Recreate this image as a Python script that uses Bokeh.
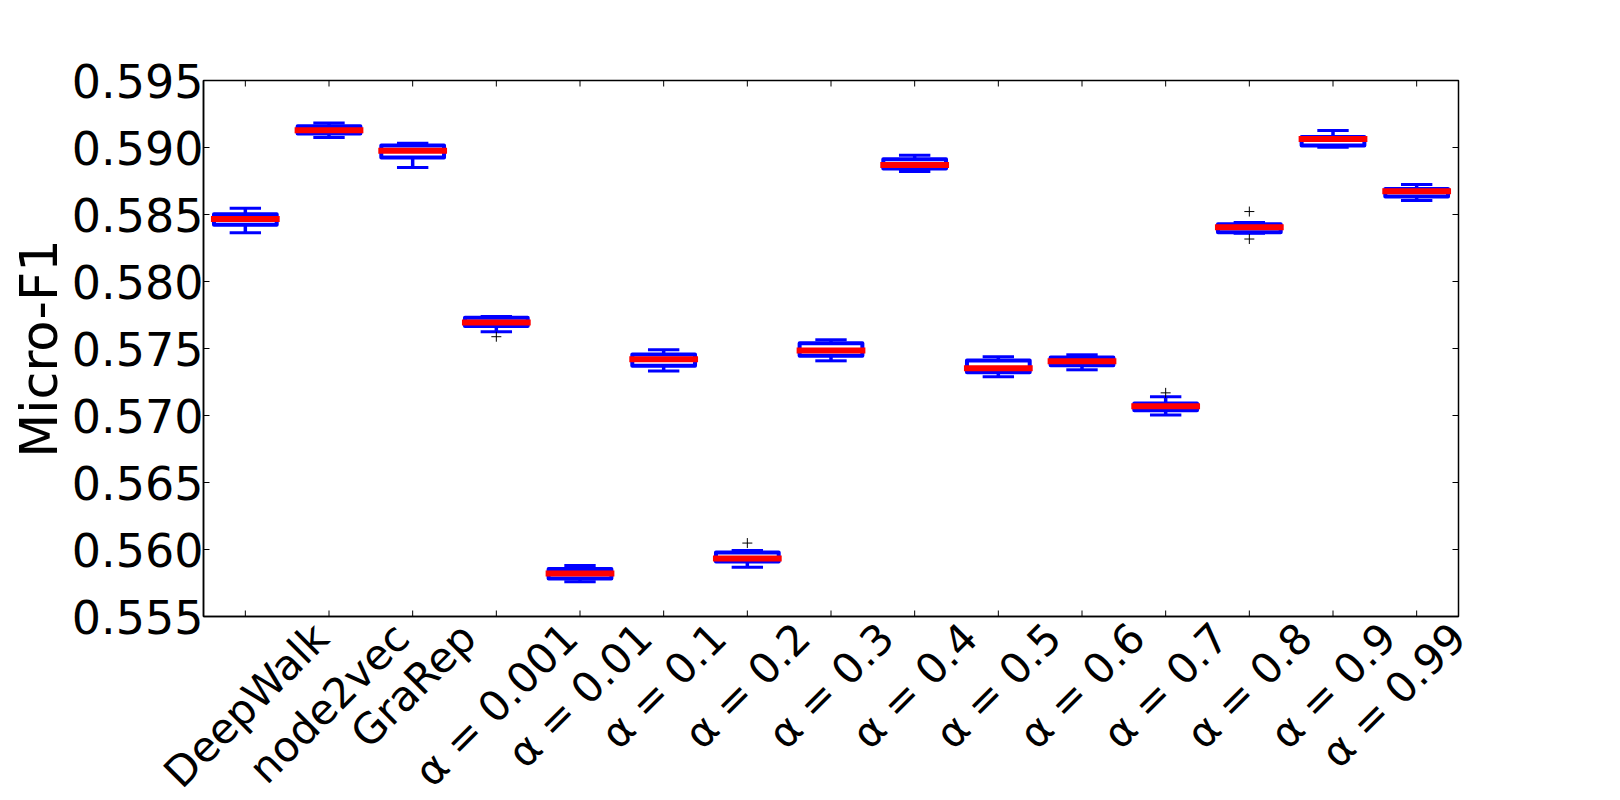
import numpy as np
from bokeh.plotting import figure
from bokeh.models import (ColumnDataSource, Range1d, FixedTicker, NumeralTickFormatter,
                          CustomJSTickFormatter)
from bokeh.transform import dodge
from bokeh.embed import file_html
from bokeh.resources import INLINE
from math import pi

# ---------------- data ----------------
categories = ["DeepWalk", "node2vec", "GraRep",
              "α = 0.001", "α = 0.01", "α = 0.1", "α = 0.2", "α = 0.3",
              "α = 0.4", "α = 0.5", "α = 0.6", "α = 0.7", "α = 0.8",
              "α = 0.9", "α = 0.99"]
whisker_high = [0.58546, 0.59182, 0.59032, 0.57739, 0.55880, 0.57490, 0.55993, 0.57565,
                0.58942, 0.57438, 0.57453, 0.57139, 0.58440, 0.59127, 0.58723]
q3 = [0.58501, 0.59159, 0.59015, 0.57730, 0.55854, 0.57455, 0.55978, 0.57540,
      0.58913, 0.57410, 0.57433, 0.57089, 0.58427, 0.59079, 0.58690]
median = [0.58466, 0.59129, 0.58975, 0.57694, 0.55820, 0.57420, 0.55933, 0.57485,
          0.58870, 0.57353, 0.57405, 0.57069, 0.58405, 0.59064, 0.58673]
q1 = [0.58424, 0.59105, 0.58925, 0.57667, 0.55783, 0.57371, 0.55910, 0.57445,
      0.58843, 0.57323, 0.57375, 0.57039, 0.58367, 0.59015, 0.58634]
whisker_low = [0.58364, 0.59075, 0.58851, 0.57625, 0.55759, 0.57333, 0.55868, 0.57408,
               0.58821, 0.57289, 0.57341, 0.57004, 0.58360, 0.59002, 0.58604]
outlier_cat = ["α = 0.001", "α = 0.2", "α = 0.7", "α = 0.8", "α = 0.8"]
outlier_val = [0.57588, 0.56048, 0.57169, 0.58522, 0.58317]
y_ticks = [0.555, 0.560, 0.565, 0.570, 0.575, 0.580, 0.585, 0.590, 0.595]
y_title = "Micro-F1"

positions = list(range(1, len(categories) + 1))
pos_of = {c: i for c, i in zip(categories, positions)}
y_lo, y_hi = y_ticks[0], y_ticks[-1]
x_lo, x_hi = 0.5, len(categories) + 0.5

src = ColumnDataSource(dict(x=positions, whi=whisker_high, q3=q3, med=median,
                            q1=q1, wlo=whisker_low))
out_src = ColumnDataSource(dict(x=[pos_of[c] for c in outlier_cat], y=outlier_val))

BLUE = "#0000ff"
RED = "#ff0000"
FONT = "DejaVu Sans"
XFS = 42          # x tick label font size (px)
FRAME_W, FRAME_H = 1255, 536

# Bokeh right-aligns rotated tick labels at the tick; matplotlib centres them.
# Shift each label's anchor by half its (approximate) projected text length.
_w = {"D": .770, "e": .615, "p": .635, "W": .989, "a": .613, "l": .278, "k": .579,
      "n": .634, "o": .612, "d": .635, "v": .592, "c": .550, "G": .775, "r": .411,
      "R": .695, "α": .659, " ": .318, "=": .838, ".": .318}
def _len(s):
    return sum(_w.get(ch, .636) for ch in s) * XFS
px_per_unit = FRAME_W / (x_hi - x_lo)
label_ticks = [min(pos + 0.3536 * _len(c) / px_per_unit, x_hi - 0.002)
               for pos, c in zip(positions, categories)]

p = figure(frame_width=FRAME_W, frame_height=FRAME_H,
           x_range=Range1d(x_lo, x_hi), y_range=Range1d(y_lo, y_hi),
           output_backend="svg", toolbar_location=None,
           min_border_left=203, min_border_top=80, min_border_right=150,
           min_border_bottom=170, background_fill_color="white",
           border_fill_color="white")

p.xgrid.visible = False
p.ygrid.visible = False
p.outline_line_color = "black"
p.outline_line_width = 1.5

# whiskers (vertical)
p.segment(x0="x", x1="x", y0="q3", y1="whi", source=src, line_color=BLUE, line_width=3.5)
p.segment(x0="x", x1="x", y0="q1", y1="wlo", source=src, line_color=BLUE, line_width=3.5)
# caps
p.segment(x0=dodge("x", -0.1875), x1=dodge("x", 0.1875), y0="whi", y1="whi",
          source=src, line_color=BLUE, line_width=3)
p.segment(x0=dodge("x", -0.1875), x1=dodge("x", 0.1875), y0="wlo", y1="wlo",
          source=src, line_color=BLUE, line_width=3)
# boxes
p.vbar(x="x", width=0.75, top="q3", bottom="q1", source=src,
       fill_color="white", line_color=BLUE, line_width=4, line_join="round")
# medians
p.segment(x0=dodge("x", -0.375), x1=dodge("x", 0.375), y0="med", y1="med",
          source=src, line_color=RED, line_width=6, line_cap="square")
# outliers
p.scatter(x="x", y="y", source=out_src, marker="cross", size=10,
          line_color="black", line_width=1)

# inward tick marks on bottom, top and right edges (clipped to the frame)
p.scatter(x=positions, y=[y_lo] * len(positions), marker="dash", angle=pi / 2,
          size=12, line_color="black", line_width=1)
p.scatter(x=positions, y=[y_hi] * len(positions), marker="dash", angle=pi / 2,
          size=12, line_color="black", line_width=1)
p.scatter(x=[x_hi] * len(y_ticks), y=y_ticks, marker="dash",
          size=12, line_color="black", line_width=1)

# x axis: rotated category labels
xa = p.xaxis[0]
xa.ticker = FixedTicker(ticks=label_ticks)
xa.formatter = CustomJSTickFormatter(args=dict(labels=categories),
                                     code="return labels[index];")
xa.major_label_orientation = pi / 4
xa.major_label_text_font = FONT
xa.major_label_text_font_size = f"{XFS}px"
xa.major_label_text_color = "black"
xa.major_label_standoff = 14
xa.major_tick_line_color = None
xa.minor_tick_line_color = None
xa.major_tick_in = 0
xa.major_tick_out = 0
xa.axis_line_color = "black"
xa.axis_line_width = 1.5

# y axis
ya = p.yaxis[0]
ya.ticker = FixedTicker(ticks=y_ticks)
ya.formatter = NumeralTickFormatter(format="0.000")
ya.major_label_text_font = FONT
ya.major_label_text_font_size = "46px"
ya.major_label_text_color = "black"
ya.major_label_standoff = 0
ya.major_tick_in = 6
ya.major_tick_out = 0
ya.minor_tick_line_color = None
ya.axis_line_color = "black"
ya.axis_line_width = 1.5
ya.major_tick_line_color = "black"
ya.axis_label = y_title
ya.axis_label_text_font = FONT
ya.axis_label_text_font_size = "51px"
ya.axis_label_text_font_style = "normal"
ya.axis_label_text_color = "black"
ya.axis_label_standoff = 0

html = file_html(p, INLINE)
html = html.replace("<head>", "<head><style>html, body { overflow: hidden; }</style>", 1)
open("out.html", "w").write(html)
